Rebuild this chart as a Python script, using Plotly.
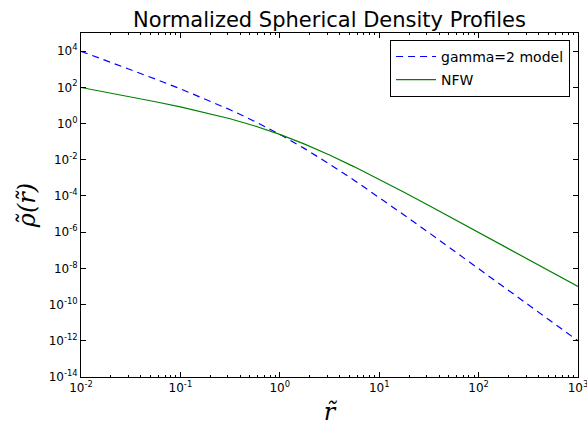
import plotly.graph_objects as go

# radius samples (quarter decades)
r = [0.01, 0.01778, 0.03162, 0.05623, 0.1, 0.1778, 0.3162, 0.5623,
     1.0, 1.778, 3.162, 5.623, 10.0, 17.78, 31.62, 56.23,
     100.0, 177.8, 316.2, 562.3, 1000.0]

# gamma=2 model density
rho_gamma2 = [9.8e3, 3.05e3, 9.4e2, 2.84e2, 82.6, 22.8, 5.77, 1.30,
              0.25, 4.10e-2, 5.77e-3, 7.21e-4, 8.26e-5, 8.97e-6, 9.40e-7, 9.66e-8,
              9.80e-9, 9.89e-10, 9.94e-11, 9.97e-12, 9.98e-13]

# NFW density
rho_nfw = [98.0, 54.3, 29.7, 15.9, 8.26, 4.05, 1.83, 0.729,
           0.25, 7.29e-2, 1.83e-2, 4.05e-3, 8.26e-4, 1.60e-4, 2.97e-5, 5.43e-6,
           9.80e-7, 1.76e-7, 3.14e-8, 5.60e-9, 9.98e-10]

x_exps = [-2, -1, 0, 1, 2, 3]
y_exps = [-14, -12, -10, -8, -6, -4, -2, 0, 2, 4]

def lab(e):
    return "10<sup>%d</sup>" % e

x_minor = [m * 10 ** e for e in x_exps[:-1] for m in range(2, 10)]

fig = go.Figure()
fig.add_trace(go.Scatter(x=r, y=rho_gamma2, mode="lines", name="gamma=2 model",
                         legendgroup="a",
                         line=dict(color="#0000ff", width=1.2, dash="7px,5px")))
fig.add_trace(go.Scatter(x=r, y=rho_nfw, mode="lines", name="NFW",
                         legendgroup="b",
                         line=dict(color="#008000", width=1.2)))

axis_common = dict(showline=True, linecolor="black", linewidth=1, mirror="allticks",
                   ticks="inside", ticklen=5, tickcolor="black", showgrid=False,
                   zeroline=False, ticklabeloverflow="allow", automargin=False,
                   tickfont=dict(family="DejaVu Sans", size=12, color="black"))

fig.update_xaxes(type="log", range=[-2, 3],
                 tickvals=[10 ** e for e in x_exps], ticktext=[lab(e) for e in x_exps],
                 minor=dict(tickvals=x_minor, ticks="inside", ticklen=2, tickcolor="black"),
                 title=dict(text="<i>r\u0303</i>", font=dict(family="DejaVu Serif", size=24, color="black"),
                            standoff=8),
                 **axis_common)
fig.update_yaxes(type="log", range=[-14, 5],
                 tickvals=[10.0 ** e for e in y_exps], ticktext=[lab(e) for e in y_exps],
                 title=dict(text="<i>\u03c1\u0303(r\u0303)</i>", font=dict(family="DejaVu Serif", size=24, color="black"),
                            standoff=6),
                 **axis_common)

fig.update_layout(
    width=587, height=430,
    margin=dict(l=81, r=9, t=33, b=53),
    paper_bgcolor="white", plot_bgcolor="white",
    title=dict(text="Normalized Spherical Density Profiles", x=0.5, xref="paper",
               y=1, yref="paper", yanchor="bottom", pad=dict(b=6),
               font=dict(family="DejaVu Sans", size=21, color="black")),
    legend=dict(x=0.984, y=0.98, xanchor="right", yanchor="top",
                bordercolor="black", borderwidth=1, bgcolor="white",
                itemwidth=40, tracegroupgap=2, traceorder="grouped",
                font=dict(family="DejaVu Sans", size=14, color="black")),
    showlegend=True,
)

fig.write_html("out.html")
